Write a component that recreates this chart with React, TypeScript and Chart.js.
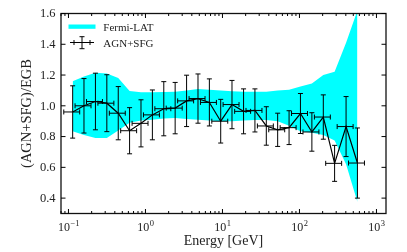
import React, { useEffect, useRef } from "react";
import { Chart, registerables } from "chart.js";
Chart.register(...registerables);

// Energy bin centres [GeV]
const energies = [0.1134, 0.159, 0.224, 0.315, 0.443, 0.622, 0.875, 1.23, 1.73, 2.43, 3.42, 4.81, 6.76, 9.49, 13.3, 18.8, 26.4, 37.1, 52.1, 73.3, 103, 145, 204, 286, 403, 566];
// half widths of the energy bins [GeV]
const energyErr = [0.0265, 0.0372, 0.0524, 0.0737, 0.1037, 0.1455, 0.2048, 0.288, 0.405, 0.569, 0.8, 1.126, 1.58, 2.22, 3.11, 4.4, 6.18, 8.68, 12.2, 17.15, 24.1, 33.9, 47.7, 66.9, 94.3, 132.4];
// AGN+SFG / EGB ratio and its error
const ratio = [0.96, 1.0, 1.028, 1.017, 0.952, 0.838, 0.886, 0.941, 0.981, 0.985, 1.032, 1.047, 1.022, 0.9, 1.008, 0.964, 0.97, 0.869, 0.844, 0.858, 0.95, 0.83, 0.927, 0.626, 0.865, 0.628];
const ratioErr = [0.17, 0.177, 0.184, 0.185, 0.173, 0.15, 0.153, 0.162, 0.176, 0.167, 0.167, 0.16, 0.153, 0.142, 0.157, 0.146, 0.14, 0.125, 0.108, 0.11, 0.13, 0.125, 0.144, 0.117, 0.195, 0.228];
// Fermi-LAT uncertainty band
const fermiUpper = [1.16, 1.19, 1.215, 1.21, 1.18, 1.097, 1.088, 1.088, 1.09, 1.092, 1.1, 1.11, 1.105, 1.1, 1.095, 1.092, 1.092, 1.092, 1.1, 1.105, 1.125, 1.145, 1.2, 1.222, 1.41, 1.62];
const fermiLower = [0.835, 0.81, 0.79, 0.79, 0.84, 0.89, 0.905, 0.91, 0.918, 0.92, 0.915, 0.91, 0.905, 0.9, 0.9, 0.905, 0.908, 0.908, 0.9, 0.87, 0.835, 0.825, 0.81, 0.775, 0.62, 0.375];
// axis ticks
const xMajorTicks = [0.1, 1, 10, 100, 1000];
const xTickExponents = ["\u22121", "0", "1", "2", "3"];
const yTicks = [0.4, 0.6, 0.8, 1.0, 1.2, 1.4, 1.6];
const legendLabels = ["Fermi-LAT", "AGN+SFG"];
const xTitle = "Energy [GeV]";
const yTitle = "(AGN+SFG)/EGB";

const FONT = '"Liberation Serif", "DejaVu Serif", serif';
const CYAN = "#00FFFF";

const decorPlugin = {
  id: "decor",
  afterDatasetsDraw(chart: any) {
    const ctx = chart.ctx;
    const xs = chart.scales.x;
    const ys = chart.scales.y;
    ctx.save();
    ctx.strokeStyle = "#000";
    ctx.lineWidth = 1;
    const cap = 2.5;
    for (let i = 0; i < energies.length; i++) {
      const px = xs.getPixelForValue(energies[i]);
      const py = ys.getPixelForValue(ratio[i]);
      const t = ys.getPixelForValue(ratio[i] + ratioErr[i]);
      const b = ys.getPixelForValue(ratio[i] - ratioErr[i]);
      const l = xs.getPixelForValue(energies[i] - energyErr[i]);
      const r = xs.getPixelForValue(energies[i] + energyErr[i]);
      ctx.beginPath();
      ctx.moveTo(px, t); ctx.lineTo(px, b);
      ctx.moveTo(px - cap, t); ctx.lineTo(px + cap, t);
      ctx.moveTo(px - cap, b); ctx.lineTo(px + cap, b);
      ctx.moveTo(l, py); ctx.lineTo(r, py);
      ctx.moveTo(l, py - cap); ctx.lineTo(l, py + cap);
      ctx.moveTo(r, py - cap); ctx.lineTo(r, py + cap);
      ctx.stroke();
    }
    ctx.restore();
  },
  afterDraw(chart: any) {
    const ctx = chart.ctx;
    const xs = chart.scales.x;
    const ys = chart.scales.y;
    const { left, right, top, bottom } = chart.chartArea;
    ctx.save();
    // frame
    ctx.strokeStyle = "#111";
    ctx.lineWidth = 1.3;
    ctx.strokeRect(left, top, right - left, bottom - top);
    // ticks
    ctx.lineWidth = 1;
    ctx.strokeStyle = "#000";
    ctx.beginPath();
    for (let d = -2; d <= 3; d++) {
      for (let k = 1; k <= 9; k++) {
        const v = k * Math.pow(10, d);
        if (v < xs.min || v > xs.max) continue;
        const px = xs.getPixelForValue(v);
        const len = k === 1 ? 4.5 : 2.5;
        ctx.moveTo(px, bottom); ctx.lineTo(px, bottom - len);
        ctx.moveTo(px, top); ctx.lineTo(px, top + len);
      }
    }
    for (const v of yTicks) {
      const py = ys.getPixelForValue(v);
      ctx.moveTo(left, py); ctx.lineTo(left + 4.5, py);
      ctx.moveTo(right, py); ctx.lineTo(right - 4.5, py);
    }
    ctx.stroke();
    // y tick labels
    ctx.fillStyle = "#222";
    ctx.font = `12.5px ${FONT}`;
    ctx.textAlign = "right";
    ctx.textBaseline = "middle";
    for (const v of yTicks) {
      ctx.fillText(v.toFixed(1), left - 5.5, ys.getPixelForValue(v) + 0.5);
    }
    // x tick labels 10^n
    ctx.textAlign = "left";
    ctx.textBaseline = "alphabetic";
    xMajorTicks.forEach((v, i) => {
      const px = xs.getPixelForValue(v);
      ctx.font = `12px ${FONT}`;
      const wb = ctx.measureText("10").width;
      ctx.font = `8.5px ${FONT}`;
      const we = ctx.measureText(xTickExponents[i]).width;
      const x0 = px - (wb + we) / 2;
      ctx.font = `12px ${FONT}`;
      ctx.fillText("10", x0, 230.5);
      ctx.font = `8.5px ${FONT}`;
      ctx.fillText(xTickExponents[i], x0 + wb + 0.5, 225.5);
    });
    // axis titles
    ctx.font = `14px ${FONT}`;
    ctx.textAlign = "center";
    ctx.fillText(xTitle, (left + right) / 2, 244.5);
    ctx.save();
    ctx.translate(27.5, (top + bottom) / 2);
    ctx.rotate(-Math.PI / 2);
    ctx.textBaseline = "middle";
    ctx.font = `14.5px ${FONT}`;
    ctx.fillText(yTitle, 0, 0);
    ctx.restore();
    // legend
    ctx.fillStyle = CYAN;
    ctx.fillRect(68.5, 24.5, 27, 4.3);
    ctx.strokeStyle = "#000";
    ctx.lineWidth = 1;
    ctx.beginPath();
    ctx.moveTo(70, 42.5); ctx.lineTo(94, 42.5);
    ctx.moveTo(82, 36.7); ctx.lineTo(82, 48.7);
    ctx.moveTo(79.5, 36.7); ctx.lineTo(84.5, 36.7);
    ctx.moveTo(79.5, 48.7); ctx.lineTo(84.5, 48.7);
    ctx.moveTo(74, 40); ctx.lineTo(74, 45);
    ctx.moveTo(90, 40); ctx.lineTo(90, 45);
    ctx.stroke();
    ctx.fillStyle = "#222";
    ctx.font = `11px ${FONT}`;
    ctx.textAlign = "left";
    ctx.textBaseline = "alphabetic";
    ctx.fillText(legendLabels[0], 103.3, 30.7);
    ctx.fillText(legendLabels[1], 103.3, 46.5);
    ctx.restore();
  },
};

export default function App() {
  const ref = useRef<HTMLCanvasElement | null>(null);
  useEffect(() => {
    if (!ref.current) return;
    const pts = (arr: number[]) => energies.map((e, i) => ({ x: e, y: arr[i] }));
    const chart = new Chart(ref.current, {
      type: "line",
      data: {
        datasets: [
          {
            label: legendLabels[0] + " upper",
            data: pts(fermiUpper),
            borderWidth: 0,
            borderColor: CYAN,
            pointRadius: 0,
            backgroundColor: CYAN,
            fill: "+1",
            order: 3,
          },
          {
            label: legendLabels[0] + " lower",
            data: pts(fermiLower),
            borderWidth: 0,
            borderColor: CYAN,
            pointRadius: 0,
            fill: false,
            order: 2,
          },
          {
            label: legendLabels[1],
            data: pts(ratio),
            borderColor: "#000",
            borderWidth: 1.2,
            pointRadius: 0,
            fill: false,
            order: 1,
          },
        ],
      },
      options: {
        responsive: false,
        animation: false,
        events: [],
        layout: { padding: { top: 13.5, right: 21, left: 0, bottom: 0 } },
        plugins: { legend: { display: false }, tooltip: { enabled: false } },
        scales: {
          x: {
            type: "logarithmic",
            min: 0.08,
            max: 1330,
            grid: { display: false },
            border: { display: false },
            ticks: { display: false },
            afterFit: (s: any) => { s.height = 38.5; },
          },
          y: {
            type: "linear",
            min: 0.3,
            max: 1.6,
            grid: { display: false },
            border: { display: false },
            ticks: { display: false },
            afterFit: (s: any) => { s.width = 61; },
          },
        },
      },
      plugins: [decorPlugin],
    });
    return () => chart.destroy();
  }, []);
  return (
    <div style={{ position: "absolute", left: 0, top: 0, width: 407, height: 252, background: "#fff" }}>
      <canvas ref={ref} width={407} height={252} />
    </div>
  );
}
